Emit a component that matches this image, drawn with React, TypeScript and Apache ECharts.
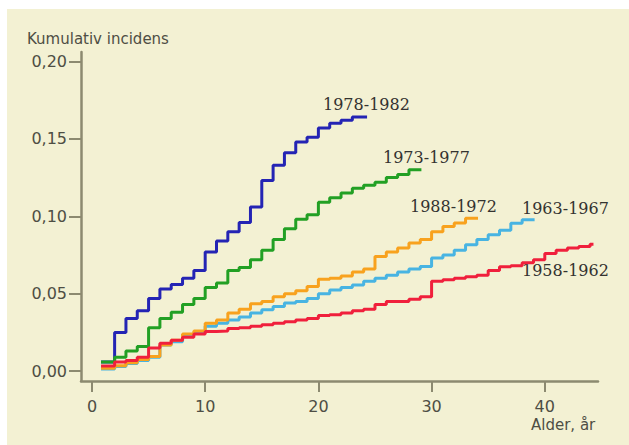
import React, { useEffect, useRef } from "react";
import * as echarts from "echarts";

const xTicks = [0, 10, 20, 30, 40];
const yTicks = [0, 0.05, 0.1, 0.15, 0.2];

const seriesNames = ["1978-1982", "1973-1977", "1963-1967", "1988-1972", "1958-1962"];

const ages1978 = [0.8, 2, 3, 4, 5, 6, 7, 8, 9, 10, 11, 12, 13, 14, 15, 16, 17, 18, 19, 20, 21, 22, 23, 24.3];
const vals1978 = [0.006, 0.025, 0.034, 0.039, 0.047, 0.053, 0.056, 0.06, 0.065, 0.077, 0.084, 0.09, 0.096, 0.106, 0.123, 0.133, 0.141, 0.148, 0.151, 0.157, 0.16, 0.162, 0.164, 0.164];

const ages1973 = [0.8, 2, 3, 4, 5, 6, 7, 8, 9, 10, 11, 12, 13, 14, 15, 16, 17, 18, 19, 20, 21, 22, 23, 24, 25, 26, 27, 28, 29.1];
const vals1973 = [0.006, 0.009, 0.013, 0.016, 0.028, 0.034, 0.038, 0.043, 0.047, 0.054, 0.057, 0.065, 0.067, 0.072, 0.078, 0.085, 0.092, 0.098, 0.101, 0.109, 0.112, 0.115, 0.118, 0.12, 0.122, 0.125, 0.127, 0.13, 0.13];

const ages1963 = [0.8, 2, 3, 4, 5, 6, 7, 8, 9, 10, 11, 12, 13, 14, 15, 16, 17, 18, 19, 20, 21, 22, 23, 24, 25, 26, 27, 28, 29, 30, 31, 32, 33, 34, 35, 36, 37, 38, 39.1];
const vals1963 = [0.0015, 0.003, 0.005, 0.007, 0.009, 0.017, 0.019, 0.0235, 0.025, 0.029, 0.031, 0.033, 0.035, 0.0375, 0.0396, 0.0417, 0.044, 0.045, 0.047, 0.05, 0.0525, 0.054, 0.0557, 0.058, 0.06, 0.062, 0.064, 0.066, 0.0676, 0.073, 0.075, 0.078, 0.0816, 0.085, 0.088, 0.091, 0.0955, 0.0977, 0.0977];

const ages1988 = [0.8, 2, 3, 4, 5, 6, 7, 8, 9, 10, 11, 12, 13, 14, 15, 16, 17, 18, 19, 20, 21, 22, 23, 24, 25, 26, 27, 28, 29, 30, 31, 32, 33, 34.1];
const vals1988 = [0.002, 0.0035, 0.0055, 0.0075, 0.0095, 0.017, 0.02, 0.024, 0.026, 0.031, 0.033, 0.0376, 0.04, 0.0435, 0.045, 0.048, 0.05, 0.052, 0.0547, 0.0594, 0.06, 0.0615, 0.064, 0.066, 0.074, 0.077, 0.0795, 0.0827, 0.085, 0.09, 0.0934, 0.0956, 0.0988, 0.0988];

const ages1958 = [0.8, 2, 3, 4, 5, 6, 7, 8, 9, 10, 11, 12, 13, 14, 15, 16, 17, 18, 19, 20, 21, 22, 23, 24, 25, 26, 27, 28, 29, 30, 31, 32, 33, 34, 35, 36, 37, 38, 39, 40, 41, 42, 43, 44, 44.3];
const vals1958 = [0.0034, 0.006, 0.007, 0.009, 0.015, 0.018, 0.02, 0.022, 0.024, 0.0256, 0.026, 0.0275, 0.028, 0.029, 0.03, 0.031, 0.032, 0.033, 0.034, 0.036, 0.0365, 0.0375, 0.039, 0.04, 0.043, 0.045, 0.045, 0.0465, 0.048, 0.058, 0.059, 0.06, 0.061, 0.062, 0.065, 0.0675, 0.068, 0.07, 0.072, 0.076, 0.078, 0.0795, 0.0805, 0.082, 0.082];

const seriesAges = [ages1978, ages1973, ages1963, ages1988, ages1958];
const seriesVals = [vals1978, vals1973, vals1963, vals1988, vals1958];
const seriesColors = ["#2424b4", "#22a024", "#48b4e2", "#f8a21e", "#f0203c"];

const labelPos = [
  [323, 106],
  [383, 159],
  [522, 210],
  [410, 208],
  [522, 272],
];

export default function App() {
  const ref = useRef<HTMLDivElement>(null);
  useEffect(() => {
    if (!ref.current) return;
    const chart = echarts.init(ref.current, null, { renderer: "svg" });
    const axisColor = "#8c8a70";
    const labelColor = "#4e4e44";
    const fmt = (v: number) => v.toFixed(2).replace(".", ",");
    chart.setOption({
      animation: false,
      backgroundColor: "#ffffff",
      grid: { left: 81, top: 52, width: 517, height: 329, containLabel: false },
      xAxis: {
        type: "value",
        min: -0.97,
        max: 44.7,
        axisLine: { show: true, onZero: false, lineStyle: { color: axisColor, width: 2.5 } },
        axisTick: { show: true, length: 11, customValues: xTicks, lineStyle: { color: axisColor, width: 2 } },
        axisLabel: {
          customValues: xTicks,
          margin: 17,
          color: labelColor,
          fontFamily: "DejaVu Sans",
          fontSize: 16,
        },
        splitLine: { show: false },
      },
      yAxis: {
        type: "value",
        min: -0.0063,
        max: 0.206,
        axisLine: { show: true, onZero: false, lineStyle: { color: axisColor, width: 2.5 } },
        axisTick: { show: true, length: 12, customValues: yTicks, lineStyle: { color: axisColor, width: 2 } },
        axisLabel: {
          customValues: yTicks,
          margin: 14,
          color: labelColor,
          fontFamily: "DejaVu Sans",
          fontSize: 16,
          formatter: fmt,
        },
        splitLine: { show: false },
      },
      graphic: [
        {
          type: "rect",
          z: -100,
          zlevel: 0,
          silent: true,
          shape: { x: 7, y: 9, width: 622, height: 436 },
          style: { fill: "#f3f1d3" },
        },
        {
          type: "text",
          left: 27,
          top: 31,
          style: {
            text: "Kumulativ incidens",
            fill: labelColor,
            font: "15px 'DejaVu Sans'",
          },
        },
        {
          type: "text",
          left: 531,
          top: 417,
          style: {
            text: "Alder, år",
            fill: labelColor,
            font: "15px 'DejaVu Sans'",
          },
        },
        ...seriesNames.map((n, i) => ({
          type: "text",
          left: labelPos[i][0],
          top: labelPos[i][1] - 10,
          style: {
            text: n,
            fill: "#333330",
            font: "16px 'DejaVu Serif'",
          },
        })),
      ],
      series: seriesNames.map((n, i) => ({
        name: n,
        type: "line",
        step: "end",
        showSymbol: false,
        symbol: "none",
        data: seriesAges[i].map((a, j) => [a, seriesVals[i][j]]),
        lineStyle: { color: seriesColors[i], width: 3 },
        itemStyle: { color: seriesColors[i] },
      })),
    });
    return () => chart.dispose();
  }, []);
  return (
    <div
      ref={ref}
      style={{ position: "absolute", left: 0, top: 0, width: 629, height: 445 }}
    />
  );
}
